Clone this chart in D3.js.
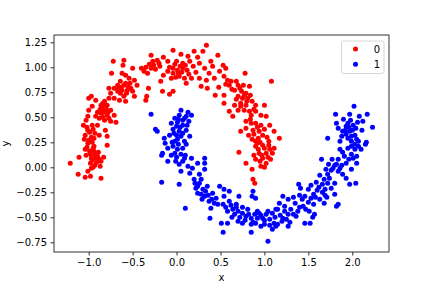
<!DOCTYPE html>
<html lang="en">
<head>
<meta charset="UTF-8">
<title>moons</title>
<script src="https://d3js.org/d3.v7.min.js"></script>
<style>
  body { margin: 0; background: #fff; }
  text { font-family: "DejaVu Sans", sans-serif; }
</style>
</head>
<body>
<svg id="plot" width="432" height="288"></svg>
<script>
// class 0 (red), points as [x, y]
const red = [
  [-0.72,1.06],[-0.60,1.07],[-0.61,1.02],[-0.74,0.94],[-0.50,0.99],[-0.40,0.99],[-0.37,0.96],[-0.29,1.12],
  [-0.22,1.07],[-0.15,1.10],[-0.26,1.02],[-0.19,1.01],[-0.29,0.99],[-0.33,0.94],[-0.62,0.94],[-0.58,0.92],
  [-0.54,0.89],[-0.48,0.87],[-0.45,0.82],[-0.64,0.86],[-0.60,0.82],[-0.67,0.82],[-0.71,0.79],[-0.77,0.79],
  [-0.75,0.74],[-0.67,0.76],[-0.64,0.74],[-0.56,0.77],[-0.50,0.76],[-0.48,0.71],[-0.60,0.71],[-0.58,0.66],
  [-0.65,0.67],[-0.71,0.69],[-0.77,0.69],[-0.82,0.66],[-0.86,0.62],[-0.79,0.62],[-0.75,0.57],[-0.82,0.57],
  [-0.86,0.54],[-0.79,0.52],[-0.71,0.52],[-0.69,0.45],[-0.75,0.46],[-0.82,0.47],[-0.88,0.49],[-0.92,0.51],
  [-0.96,0.61],[-1.00,0.69],[-0.97,0.71],[-0.92,0.67],[-1.00,0.57],[-1.01,0.51],[-1.03,0.47],[-1.06,0.42],
  [-1.01,0.37],[-1.04,0.32],[-1.00,0.27],[-0.96,0.42],[-0.90,0.42],[-0.88,0.32],[-0.81,0.37],[-0.79,0.31],
  [-0.94,0.29],[-0.32,0.79],[-0.34,0.71],[-0.35,0.67],[-0.18,0.86],[-0.16,0.76],[-0.15,0.92],
  [-1.01,0.24],[-0.94,0.21],[-1.04,0.18],[-0.94,0.16],[-0.89,0.15],[-0.98,0.13],[-1.03,0.12],[-0.83,0.10],
  [-1.11,0.10],[-0.97,0.09],[-0.86,0.06],[-1.21,0.04],[-0.98,0.04],[-0.87,0.01],[-0.97,-0.01],[-1.01,-0.04],
  [-1.12,-0.07],[-1.04,-0.10],[-0.98,-0.09],[-0.86,-0.11],[-0.79,0.22],[-0.92,0.09],
  [-0.85,0.60],[-0.83,0.55],[-0.80,0.58],[-0.84,0.50],[-0.78,0.55],[-0.81,0.62],[-0.87,0.58],[-0.77,0.49],
  [-0.90,0.55],[-0.84,0.64],[-0.63,0.80],[-0.58,0.84],[-0.55,0.80],[-0.62,0.77],[-0.53,0.84],[-0.66,0.79],
  [-0.57,0.74],[-0.52,0.79],[-0.35,1.00],[-0.31,1.03],[-0.24,0.98],[-0.27,1.06],[-0.20,1.04],
  [-1.02,0.40],[-0.99,0.35],[-0.95,0.38],[-1.05,0.28],[-0.97,0.30],[-0.93,0.34],[-1.02,0.20],[-0.96,0.25],
  [-0.95,0.19],[-0.93,0.12],[-0.96,0.07],[-0.91,0.05],[-0.95,0.00],[-0.90,0.11],[-0.99,0.16],[-0.93,0.02],
  [-0.88,0.08],
  [0.34,1.22],[-0.04,1.17],[0.20,1.16],[0.30,1.16],[0.47,1.12],[0.05,1.13],[0.13,1.11],[0.24,1.10],
  [-0.10,1.06],[0.00,1.06],[0.07,1.04],[0.15,1.06],[0.26,1.04],[0.39,1.06],[0.41,1.01],[0.53,1.02],
  [0.56,0.99],[-0.04,0.99],[0.01,0.97],[0.07,0.99],[0.32,0.99],[0.37,0.94],[0.49,0.96],[0.78,0.94],
  [0.54,0.91],[0.58,0.87],[-0.04,0.94],[-0.06,0.89],[0.03,0.91],[0.09,0.89],[0.17,0.89],[0.11,0.84],
  [0.26,0.89],[0.34,0.87],[0.43,0.89],[0.28,0.81],[0.35,0.79],[0.48,0.80],[0.60,0.82],[0.68,0.86],
  [0.70,0.82],[0.76,0.82],[0.83,0.81],[1.08,0.86],[-0.04,0.76],[-0.08,0.73],[0.44,0.72],[0.54,0.72],
  [0.66,0.77],[0.74,0.76],[0.79,0.74],[0.70,0.71],[0.75,0.69],[0.81,0.69],[0.54,0.64],[0.66,0.62],
  [0.73,0.64],[0.79,0.62],[0.86,0.66],[0.90,0.62],[1.00,0.62],[0.60,0.56],[0.70,0.57],[0.77,0.57],
  [0.83,0.56],[0.90,0.56],[0.96,0.52],[0.64,0.51],[0.79,0.46],[0.85,0.44],[0.90,0.44],[1.02,0.51],
  [1.06,0.42],[0.73,0.36],[0.79,0.39],[0.87,0.37],[0.94,0.36],[0.98,0.32],[0.90,0.26],[0.82,0.32],
  [1.11,0.36],[1.17,0.29],
  [-0.08,1.00],[-0.02,1.03],[0.04,1.01],[0.10,1.02],[-0.10,0.96],[0.02,0.94],[0.06,0.95],[0.12,0.97],
  [-0.01,0.90],[0.14,0.93],[0.19,1.01],[0.22,0.95],[0.63,0.78],[0.72,0.79],[0.77,0.72],[0.68,0.68],
  [0.84,0.72],[0.62,0.86],[0.56,0.83],[0.80,0.66],[0.73,0.61],[0.88,0.58],[0.85,0.52],
  [0.84,0.48],[0.92,0.40],[0.88,0.33],[0.96,0.42],[1.00,0.38],[0.93,0.29],[0.86,0.28],[1.03,0.30],
  [0.95,0.25],[1.05,0.26],
  [0.71,0.15],[0.79,0.04],[0.86,-0.02],[0.87,-0.12],[0.89,-0.16],[0.90,0.21],[0.94,0.14],[0.98,0.09],
  [1.02,0.14],[1.06,0.18],[1.09,0.14],[1.02,0.04],[0.96,0.01],[0.90,0.08],[0.92,0.24],[1.07,0.08],
  [1.11,0.19],[1.00,0.19],[0.93,0.18],[0.97,0.12],[1.04,0.10],[0.95,0.06],[1.00,0.00],[0.88,0.12],
  [1.05,0.22],[0.98,0.22]
];

// class 1 (blue)
const blue = [
  [-0.29,0.53],[-0.24,0.38],[-0.22,0.36],[-0.14,0.29],[-0.16,0.14],[-0.17,0.12],[-0.17,-0.15],[-0.13,0.24],
  [0.05,0.57],[0.13,0.55],[0.17,0.52],[0.11,0.51],[0.03,0.52],[-0.02,0.49],[-0.06,0.44],[0.01,0.45],
  [0.07,0.42],[-0.04,0.38],[0.03,0.36],[0.11,0.37],[0.15,0.31],[0.05,0.31],[-0.08,0.32],[-0.02,0.26],
  [0.09,0.26],[0.00,0.32],
  [0.02,0.48],[0.07,0.47],[0.00,0.41],[0.04,0.40],[-0.03,0.34],[0.07,0.34],[0.01,0.28],[0.12,0.42],
  [0.09,0.49],[0.14,0.46],[-0.06,0.12],[0.00,0.10],[0.03,0.03],[0.10,0.12],[-0.05,0.25],[0.02,0.23],
  [0.09,0.09],
  [-0.10,0.19],[-0.04,0.21],[0.01,0.18],[0.07,0.19],[0.11,0.23],[-0.02,0.14],[0.05,0.13],[-0.10,0.06],
  [-0.01,0.06],[0.07,0.06],[0.17,0.09],[0.24,0.04],[0.32,0.09],[0.32,0.04],[0.13,0.01],[0.05,-0.04],
  [0.15,-0.06],[0.18,-0.01],[0.26,-0.07],[0.32,-0.02],[0.03,-0.17],[0.20,-0.12],[0.26,-0.16],[0.22,-0.21],
  [0.30,-0.22],[0.35,-0.19],[0.24,-0.26],[0.32,-0.29],[0.49,-0.19],[0.41,-0.26],[0.45,-0.31],[0.37,-0.34],
  [0.54,-0.22],[0.60,-0.24],[0.54,-0.29],[0.60,-0.34],[0.53,-0.37],[0.47,-0.37],[0.39,-0.41],[0.68,-0.37],
  [0.71,-0.29],[0.58,-0.44],[0.64,-0.42],[0.70,-0.44],[0.75,-0.46],[0.81,-0.42],[0.79,-0.49],[0.85,-0.51],
  [0.89,-0.47],[0.94,-0.46],[0.98,-0.51],[1.02,-0.47],[1.06,-0.52],[1.09,-0.46],[1.13,-0.42],[0.90,-0.56],
  [0.96,-0.59],[0.85,-0.57],[0.75,-0.56],[0.70,-0.54],[0.58,-0.56],[0.51,-0.56],[0.53,-0.65],[0.85,-0.65],
  [1.04,-0.74],[0.10,-0.41],[0.38,-0.51],[0.86,-0.29],[0.90,-0.31],[0.87,-0.24],[1.11,-0.56],[1.13,-0.59],
  [1.00,-0.57],[1.09,-0.62],
  [0.21,-0.16],[0.28,-0.12],[0.24,-0.19],[0.33,-0.24],[0.28,-0.27],[0.36,-0.28],[0.29,-0.32],[0.40,-0.32],
  [0.43,-0.36],[0.56,-0.40],[0.62,-0.38],[0.66,-0.47],[0.72,-0.50],[0.78,-0.53],[0.82,-0.47],[0.63,-0.50],
  [0.68,-0.40],[0.75,-0.40],[0.92,-0.51],[0.96,-0.48],[1.04,-0.44],[1.00,-0.53],[0.92,-0.44],[0.87,-0.55],
  [1.06,-0.58],[1.12,-0.50],
  [2.02,0.61],[1.97,0.53],[2.08,0.51],[2.17,0.53],[1.81,0.53],[2.12,0.46],[1.82,0.44],[1.95,0.44],
  [2.01,0.42],[1.93,0.41],[2.23,0.40],[1.84,0.39],[1.89,0.36],[1.97,0.36],[2.03,0.32],[2.11,0.37],
  [1.72,0.29],[1.88,0.31],[1.95,0.29],[1.86,0.26],[1.99,0.26],[2.16,0.25],[2.07,0.26],
  [1.92,0.37],[1.96,0.40],[2.00,0.37],[2.04,0.39],[1.99,0.31],[1.93,0.33],[2.05,0.28],[1.98,0.47],
  [1.90,0.48],[2.06,0.45],[1.99,0.21],[2.10,0.18],[1.89,0.15],[1.96,0.08],[2.01,0.09],[1.88,0.02],
  [2.03,0.23],[2.15,0.23],[1.86,0.18],[1.95,0.19],[2.03,0.18],[2.07,0.21],[1.99,0.13],[1.91,0.11],
  [2.05,0.11],[1.65,0.08],[1.77,0.08],[1.84,0.08],[1.82,0.03],[1.93,0.04],[2.05,0.04],[1.70,-0.02],
  [1.78,-0.01],[1.84,-0.04],[1.99,-0.02],[1.72,-0.07],[1.89,-0.07],[1.93,-0.11],[1.63,-0.08],[1.59,-0.15],
  [1.66,-0.17],[1.72,-0.16],[1.80,-0.16],[1.97,-0.17],[2.04,-0.16],[1.39,-0.17],[1.41,-0.21],[1.53,-0.18],
  [1.50,-0.22],[1.60,-0.23],[1.69,-0.22],[1.76,-0.21],[1.80,-0.27],[1.69,-0.28],[1.56,-0.27],[1.53,-0.31],
  [1.46,-0.29],[1.63,-0.32],[1.68,-0.36],[1.56,-0.37],[1.43,-0.32],[1.33,-0.30],[1.21,-0.29],[1.27,-0.32],
  [1.35,-0.36],[1.44,-0.39],[1.23,-0.39],[1.30,-0.42],[1.38,-0.44],[1.15,-0.42],[1.17,-0.36],[1.27,-0.47],
  [1.33,-0.47],[1.51,-0.44],[1.57,-0.47],[1.55,-0.50],[1.21,-0.51],[1.29,-0.55],[1.46,-0.56],[1.52,-0.56],
  [1.27,-0.59],[1.15,-0.57],[1.82,-0.39],[1.84,-0.37],[1.20,-0.54],
  [1.68,-0.12],[1.74,-0.11],[1.76,-0.03],[1.73,0.03],[1.80,0.02],[1.86,-0.01],[1.62,-0.20],[1.66,-0.25],
  [1.71,-0.30],[1.58,-0.30],[1.50,-0.35],[1.47,-0.42],[1.40,-0.40],[1.36,-0.49],[1.23,-0.44],[1.18,-0.48],
  [1.25,-0.52],[1.40,-0.28]
];

const xTicks = [-1.0, -0.5, 0.0, 0.5, 1.0, 1.5, 2.0];
const yTicks = [-0.75, -0.50, -0.25, 0.00, 0.25, 0.50, 0.75, 1.00, 1.25];
const labels = ["0", "1"];
const colors = ["red", "blue"];

const mLeft = 54, mRight = 389, mTop = 35, mBottom = 252;
const svg = d3.select("#plot");

const x = d3.scaleLinear().domain([-1.395, 2.418]).range([mLeft, mRight]);
const y = d3.scaleLinear().domain([-0.847, 1.323]).range([mBottom, mTop]);

// points
[red, blue].forEach(function (pts, i) {
    svg.append("g").selectAll("circle").data(pts).join("circle")
        .attr("cx", d => x(d[0]))
        .attr("cy", d => y(d[1]))
        .attr("r", 2.5)
        .style("fill", colors[i]);
});

// axes
const xAxis = svg.append("g")
    .attr("transform", "translate(0," + mBottom + ")")
    .call(d3.axisBottom(x).tickValues(xTicks).tickFormat(d3.format(".1f")).tickSize(3.5).tickPadding(3.5).tickSizeOuter(0));
const yAxis = svg.append("g")
    .attr("transform", "translate(" + mLeft + ",0)")
    .call(d3.axisLeft(y).tickValues(yTicks).tickFormat(d3.format(".2f")).tickSize(3.5).tickPadding(3.5).tickSizeOuter(0));
[xAxis, yAxis].forEach(function (a) {
    a.select(".domain").remove();
    a.selectAll("line").attr("stroke", "#000").attr("stroke-width", 0.8);
    a.selectAll("text").attr("font-size", 10).attr("fill", "#000").attr("font-family", "DejaVu Sans");
});

// frame
svg.append("rect")
    .attr("x", mLeft).attr("y", mTop)
    .attr("width", mRight - mLeft).attr("height", mBottom - mTop)
    .attr("fill", "none").attr("stroke", "#000").attr("stroke-width", 0.8);

svg.append("text").attr("x", (mLeft + mRight) / 2).attr("y", 281)
    .attr("text-anchor", "middle").attr("font-size", 10).text("x");
svg.append("text").attr("transform", "translate(9," + (mTop + mBottom) / 2 + ") rotate(-90)")
    .attr("text-anchor", "middle").attr("font-size", 10).text("y");

// legend
const lg = svg.append("g");
lg.append("rect").attr("x", 341.5).attr("y", 41).attr("width", 42.5).attr("height", 32.5)
    .attr("rx", 2).attr("fill", "#fff").attr("fill-opacity", 0.8)
    .attr("stroke", "#ccc").attr("stroke-width", 0.8);
labels.forEach(function (l, i) {
    lg.append("circle").attr("cx", 355.5).attr("cy", 49 + i * 15.3).attr("r", 2.5).style("fill", colors[i]);
    lg.append("text").attr("x", 377).attr("y", 52.5 + i * 15.3)
        .attr("text-anchor", "middle").attr("font-size", 10).text(l);
});
</script>
</body>
</html>
